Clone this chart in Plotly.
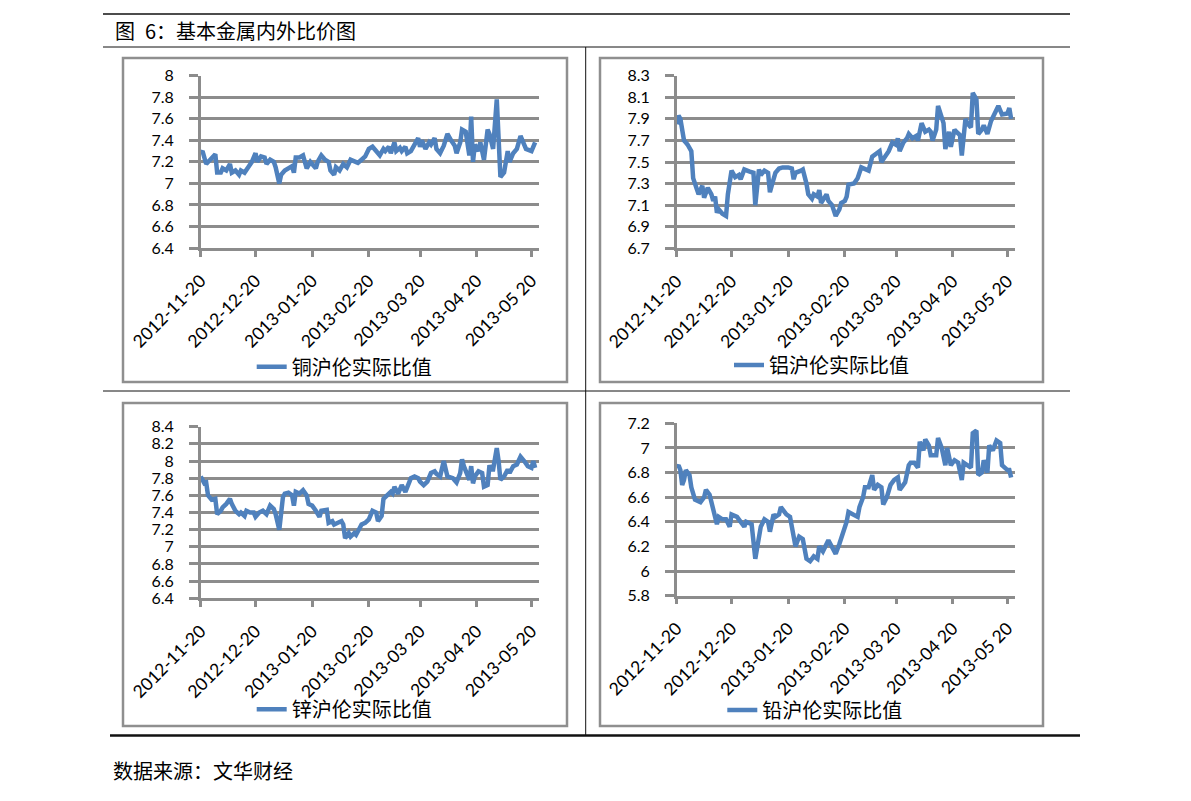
import plotly.graph_objects as go
import pandas as pd

# ---------------- data ----------------
START = "2012-11-20"
END = "2013-05-24"
tick_dates = ["2012-11-20", "2012-12-20", "2013-01-20", "2013-02-20",
              "2013-03-20", "2013-04-20", "2013-05-20"]
tick_labels = ["2012-11-20", "2012-12-20", "2013-01-20", "2013-02-20",
               "2013-03 20", "2013-04 20", "2013-05 20"]

# elapsed days since 2012-11-20
cu_days = [0, 1, 3, 5, 8, 9, 11, 12, 14, 16, 17, 19, 21, 22, 24, 26, 28, 30, 31, 33,
           35, 36, 38, 40, 41, 43, 44, 46, 48, 50, 51, 52, 54, 56, 58, 60, 61, 63, 64, 66,
           68, 70, 71, 73, 74, 76, 78, 80, 82, 84, 86, 88, 90, 92, 94, 96, 98, 100, 101, 103,
           104, 106, 107, 109, 110, 112, 113, 115, 117, 119, 120, 121, 123, 125, 126, 128, 129, 131, 133, 135,
           137, 139, 140, 142, 143, 145, 147, 148, 149, 150, 152, 153, 155, 157, 158, 160, 162, 163, 164, 166,
           168, 169, 171, 173, 175, 177, 178, 181, 183]
cu_vals = [7.28, 7.30, 7.18, 7.22, 7.27, 7.10, 7.10, 7.14, 7.12, 7.18, 7.10, 7.12, 7.08, 7.12, 7.10, 7.15, 7.20, 7.28, 7.20, 7.25,
           7.24, 7.18, 7.22, 7.20, 7.15, 7.00, 7.08, 7.12, 7.14, 7.16, 7.10, 7.24, 7.24, 7.26, 7.14, 7.20, 7.18, 7.14, 7.20, 7.26,
           7.22, 7.20, 7.12, 7.08, 7.15, 7.12, 7.18, 7.15, 7.22, 7.20, 7.19, 7.22, 7.25, 7.32, 7.34, 7.30, 7.26, 7.32, 7.30, 7.34,
           7.28, 7.38, 7.30, 7.33, 7.30, 7.34, 7.28, 7.30, 7.36, 7.42, 7.34, 7.40, 7.32, 7.38, 7.36, 7.42, 7.32, 7.28, 7.35, 7.46,
           7.40, 7.35, 7.28, 7.38, 7.50, 7.48, 7.26, 7.62, 7.20, 7.36, 7.30, 7.38, 7.22, 7.50, 7.46, 7.32, 7.78, 7.50, 7.06, 7.10,
           7.30, 7.20, 7.28, 7.32, 7.44, 7.36, 7.32, 7.30, 7.38]

al_days = [0, 1, 2, 4, 5, 6, 8, 9, 11, 12, 14, 15, 17, 19, 20, 21, 22, 23, 25, 27,
           28, 30, 32, 34, 35, 37, 40, 42, 43, 45, 46, 48, 50, 51, 52, 54, 56, 58, 61, 63,
           64, 65, 68, 69, 71, 72, 74, 75, 77, 78, 79, 81, 82, 83, 85, 87, 89, 90, 92, 93,
           94, 97, 99, 101, 103, 105, 107, 109, 111, 112, 114, 116, 118, 120, 121, 122, 124, 126, 127, 129,
           131, 132, 134, 136, 138, 139, 140, 142, 143, 145, 146, 147, 149, 150, 152, 153, 155, 156, 158, 159,
           161, 162, 164, 165, 167, 168, 170, 172, 173, 176, 178, 181, 182, 183]
al_vals = [7.85, 7.93, 7.90, 7.70, 7.68, 7.66, 7.60, 7.35, 7.25, 7.20, 7.28, 7.17, 7.26, 7.20, 7.14, 7.18, 7.03, 7.06, 7.02, 7.00,
           7.20, 7.42, 7.36, 7.38, 7.34, 7.43, 7.41, 7.40, 7.10, 7.43, 7.38, 7.42, 7.40, 7.22, 7.28, 7.40, 7.44, 7.45, 7.45, 7.44,
           7.34, 7.40, 7.42, 7.43, 7.30, 7.20, 7.16, 7.20, 7.18, 7.24, 7.12, 7.18, 7.20, 7.14, 7.10, 7.00, 7.06, 7.12, 7.14, 7.18,
           7.29, 7.30, 7.35, 7.45, 7.44, 7.42, 7.55, 7.58, 7.60, 7.50, 7.55, 7.60, 7.68, 7.66, 7.72, 7.60, 7.68, 7.72, 7.76, 7.72,
           7.74, 7.70, 7.86, 7.78, 7.80, 7.78, 7.70, 7.80, 8.02, 7.92, 7.86, 7.62, 7.78, 7.64, 7.80, 7.78, 7.75, 7.56, 7.90, 7.86,
           7.82, 8.14, 8.08, 7.76, 7.80, 7.84, 7.76, 7.88, 7.92, 8.02, 7.94, 7.95, 8.00, 7.90]

zn_days = [0, 2, 3, 4, 6, 8, 9, 11, 12, 14, 16, 17, 19, 21, 22, 24, 25, 27, 29, 30,
           32, 34, 36, 38, 40, 41, 43, 45, 46, 48, 50, 51, 52, 54, 56, 58, 59, 61, 63, 65,
           66, 69, 70, 72, 73, 75, 77, 78, 79, 81, 82, 84, 85, 87, 88, 90, 92, 94, 96, 97,
           99, 100, 102, 104, 105, 106, 108, 109, 110, 112, 113, 115, 117, 119, 120, 122, 124, 126, 128, 129,
           131, 133, 135, 137, 138, 140, 142, 143, 144, 147, 148, 149, 150, 152, 154, 155, 157, 158, 159, 160,
           162, 163, 164, 166, 168, 169, 171, 173, 175, 177, 179, 181, 182, 183]
zn_vals = [7.82, 7.74, 7.75, 7.60, 7.55, 7.56, 7.38, 7.42, 7.46, 7.50, 7.56, 7.50, 7.42, 7.38, 7.40, 7.36, 7.42, 7.40, 7.40, 7.35,
           7.40, 7.42, 7.38, 7.48, 7.44, 7.38, 7.20, 7.58, 7.62, 7.63, 7.60, 7.48, 7.64, 7.62, 7.66, 7.60, 7.50, 7.48, 7.42, 7.35,
           7.42, 7.43, 7.28, 7.30, 7.26, 7.28, 7.30, 7.26, 7.10, 7.16, 7.12, 7.16, 7.14, 7.22, 7.26, 7.28, 7.32, 7.42, 7.40, 7.30,
           7.36, 7.56, 7.60, 7.64, 7.62, 7.70, 7.62, 7.68, 7.72, 7.64, 7.70, 7.80, 7.82, 7.80, 7.76, 7.72, 7.76, 7.86, 7.88, 7.85,
           7.82, 8.00, 7.82, 7.80, 7.80, 7.75, 7.86, 8.02, 7.94, 7.78, 7.94, 7.74, 7.82, 7.88, 7.86, 7.70, 7.72, 7.95, 7.90, 7.90,
           8.15, 8.00, 7.78, 7.82, 7.90, 7.86, 7.94, 7.96, 8.05, 8.00, 7.94, 7.92, 8.00, 7.92]

pb_days = [0, 1, 2, 3, 4, 5, 7, 8, 10, 13, 15, 16, 18, 20, 21, 22, 23, 25, 27, 29,
           30, 33, 34, 37, 38, 41, 43, 44, 46, 48, 50, 51, 53, 54, 56, 57, 60, 62, 64, 65,
           67, 69, 71, 73, 75, 77, 78, 80, 83, 85, 87, 89, 91, 93, 94, 97, 99, 100, 102, 103,
           105, 107, 108, 110, 112, 113, 115, 117, 119, 121, 122, 124, 125, 127, 128, 130, 132, 133, 135, 136,
           138, 139, 142, 143, 145, 147, 148, 150, 152, 154, 156, 157, 159, 161, 162, 164, 165, 167, 168, 170,
           171, 173, 175, 177, 178, 181, 182, 183]
pb_vals = [6.84, 6.86, 6.82, 6.70, 6.74, 6.82, 6.78, 6.68, 6.58, 6.56, 6.60, 6.66, 6.62, 6.50, 6.44, 6.38, 6.44, 6.42, 6.42, 6.36,
           6.46, 6.44, 6.42, 6.36, 6.40, 6.38, 6.10, 6.20, 6.36, 6.42, 6.40, 6.32, 6.46, 6.44, 6.46, 6.52, 6.46, 6.44, 6.30, 6.20,
           6.28, 6.26, 6.10, 6.08, 6.12, 6.10, 6.20, 6.16, 6.25, 6.20, 6.14, 6.22, 6.30, 6.40, 6.48, 6.46, 6.44, 6.52, 6.60, 6.68,
           6.68, 6.78, 6.66, 6.70, 6.68, 6.54, 6.60, 6.70, 6.74, 6.76, 6.66, 6.70, 6.72, 6.86, 6.88, 6.88, 6.84, 7.05, 6.98, 7.07,
           7.02, 6.94, 6.94, 7.08, 7.00, 6.86, 7.00, 6.86, 6.90, 6.88, 6.74, 6.88, 6.86, 6.84, 7.12, 7.14, 6.78, 6.80, 6.90, 6.80,
           7.02, 6.98, 7.06, 7.04, 6.86, 6.82, 6.82, 6.76]

series_names = ["铜沪伦实际比值", "铝沪伦实际比值", "锌沪伦实际比值", "铅沪伦实际比值"]
y_ranges = [(6.4, 8.0), (6.7, 8.3), (6.4, 8.4), (5.8, 7.2)]

title_text = "图\u20026：基本金属内外比价图"
source_text = "数据来源：文华财经"

# ---------------- layout helpers ----------------
W, H = 1191, 801
def fx(p):
    return p / W
def fy(p):
    return 1 - p / H

GRID = "#8c8c8c"
BLUE = "#4F81BD"
NUM_FONT = dict(family="Lato, 'Open Sans', sans-serif", size=16, color="#000000")
XNUM_FONT = dict(family="Lato, 'Open Sans', sans-serif", size=17.5, color="#000000")
CJK = "'Noto Sans CJK SC', 'Noto Sans', sans-serif"

# plot-area pixel boxes (left, right, top, bottom), chart frames, legend text starts
plot_boxes = [(200.7, 538.8, 75.7, 248.0), (676.7, 1014.8, 75.7, 248.3),
              (200.7, 538.8, 426.7, 598.3), (676.7, 1014.8, 423.3, 595.7)]
frames = [(123, 567, 58, 382), (600, 1043, 58, 382), (123, 567, 403, 726), (600, 1043, 403, 726)]
legend_pos = [(292.7, 366.7), (770, 365), (292.7, 709.3), (763.3, 710)]

def to_dates(days):
    base = pd.Timestamp(START)
    return [base + pd.Timedelta(days=d) for d in days]

all_days = [cu_days, al_days, zn_days, pb_days]
all_vals = [cu_vals, al_vals, zn_vals, pb_vals]

fig = go.Figure()
layout = dict(width=W, height=H,
              margin=dict(l=0, r=0, t=0, b=0, pad=0, autoexpand=False),
              paper_bgcolor="white", plot_bgcolor="white", shapes=[], annotations=[])

for i in range(4):
    k = "" if i == 0 else str(i + 1)
    leg = "legend" if i == 0 else "legend" + str(i + 1)
    fig.add_trace(go.Scatter(
        x=to_dates(all_days[i]), y=all_vals[i], mode="lines", name=series_names[i],
        line=dict(color=BLUE, width=4.5), xaxis="x" + k, yaxis="y" + k,
        legend=leg, showlegend=True, hoverinfo="x+y"))
    l, r, t, b = plot_boxes[i]
    layout["xaxis" + k] = dict(
        domain=[fx(l), fx(r)], anchor="y" + k, type="date", range=[START, END],
        tickmode="array", tickvals=tick_dates, ticktext=tick_labels, tickangle=-45,
        ticks="outside", ticklen=6, tickwidth=2.5, tickcolor=GRID,
        showline=True, linecolor=GRID, linewidth=2.5, showgrid=False, zeroline=False,
        tickfont=XNUM_FONT, ticklabelstandoff=7, fixedrange=True, automargin=False)
    y0, y1 = y_ranges[i]
    layout["yaxis" + k] = dict(
        domain=[fy(b), fy(t)], anchor="x" + k, range=[y0, y1], tick0=y0, dtick=0.2,
        ticks="outside", ticklen=9, tickwidth=2.5, tickcolor=GRID,
        showline=True, linecolor=GRID, linewidth=2.5, showgrid=True,
        gridcolor=GRID, gridwidth=2.5, zeroline=False, tickfont=NUM_FONT,
        ticklabelstandoff=12, fixedrange=True, automargin=False)
    lx, ly = legend_pos[i]
    layout[leg] = dict(x=fx(lx - 41), y=fy(ly), xanchor="left", yanchor="middle",
                       font=dict(family=CJK, size=20, color="#000000"),
                       bgcolor="rgba(0,0,0,0)", borderwidth=0)
    fl, fr, ft, fb = frames[i]
    layout["shapes"].append(dict(type="rect", xref="paper", yref="paper",
                                 x0=fx(fl), x1=fx(fr), y0=fy(fb), y1=fy(ft),
                                 line=dict(color="#8f8f8f", width=2.5), layer="below"))

# page rules
rules = [((103, 14), (1070, 14), 1.5), ((103, 47), (1070, 47), 1),
         ((585.7, 47), (585.7, 735), 1), ((103, 391), (1070, 391), 1),
         ((110, 735.5), (1080, 735.5), 2.5)]
for (ax0, ay0), (ax1, ay1), w in rules:
    layout["shapes"].append(dict(type="line", xref="paper", yref="paper",
                                 x0=fx(ax0), y0=fy(ay0), x1=fx(ax1), y1=fy(ay1),
                                 line=dict(color="#111111", width=w)))

layout["annotations"].append(dict(text=title_text, x=fx(113), y=fy(31), xref="paper", yref="paper",
                                  xanchor="left", yanchor="middle", showarrow=False,
                                  font=dict(family=CJK, size=20, color="#000000")))
layout["annotations"].append(dict(text=source_text, x=fx(111), y=fy(770), xref="paper", yref="paper",
                                  xanchor="left", yanchor="middle", showarrow=False,
                                  font=dict(family=CJK, size=20, color="#000000")))

fig.update_layout(**layout)
fig.write_html("out.html", config={"displayModeBar": False},
               post_script="document.body.style.margin='0';document.body.style.overflow='hidden';")
